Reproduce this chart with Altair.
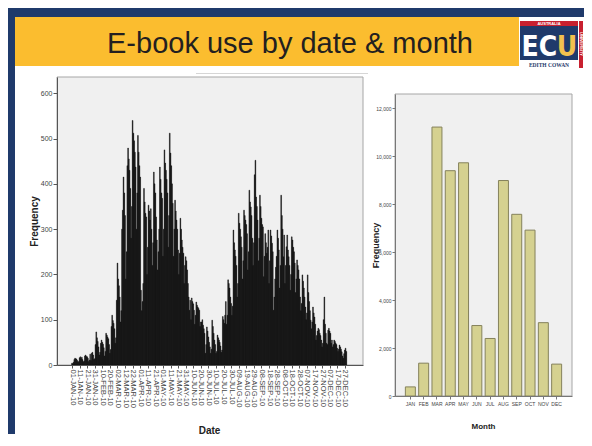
import json
import altair as alt
import pandas as pd

# ---------------- data ----------------
# daily e-book use, 01-JAN-10 (day 0) ... 29-DEC-10 (day 362)
daily_counts = [
    4, 3, 6,
    12, 15, 14, 13, 10, 6, 8,
    16, 18, 14, 17, 12, 7, 9,
    20, 22, 19, 18, 15, 8, 11,
    24, 10, 26, 28, 22, 12, 14,
    45, 73, 60, 52, 40, 22, 28,
    48, 55, 50, 46, 38, 20, 30,
    70, 66, 62, 58, 45, 26, 34,
    85, 110, 98, 92, 80, 48, 60,
    143, 225, 190, 175, 150, 95, 120,
    300, 342, 415, 380, 330, 190, 250,
    440, 479, 455, 430, 390, 280, 350,
    540, 512, 495, 470, 437, 300, 380,
    507, 470, 440, 415, 165, 120, 140,
    180, 390, 360, 335, 327, 200, 260,
    353, 340, 320, 345, 300, 220, 270,
    426, 400, 380, 327, 276, 210, 250,
    300, 437, 410, 380, 368, 240, 300,
    475, 446, 430, 410, 380, 260, 330,
    512, 468, 440, 400, 357, 240, 300,
    364, 340, 320, 300, 254, 200, 247,
    324, 300, 276, 260, 247, 180, 220,
    239, 230, 210, 180, 150, 121, 143,
    100, 148, 140, 135, 121, 90, 110,
    139, 132, 128, 125, 121, 85, 95,
    95, 100, 88, 80, 70, 26, 45,
    84, 75, 62, 50, 40, 26, 35,
    99, 85, 70, 55, 45, 26, 30,
    66, 60, 55, 50, 42, 28, 33,
    107, 100, 92, 110, 140, 90, 110,
    188, 180, 170, 150, 136, 110, 130,
    298, 270, 254, 240, 220, 150, 180,
    335, 313, 300, 283, 260, 190, 230,
    342, 330, 320, 310, 290, 210, 250,
    386, 360, 349, 330, 280, 220, 270,
    420, 452, 371, 350, 320, 230, 280,
    375, 350, 324, 310, 305, 195, 240,
    290, 270, 247, 260, 298, 180, 230,
    298, 285, 269, 250, 121, 150, 190,
    216, 240, 298, 280, 254, 170, 220,
    375, 330, 300, 239, 287, 180, 220,
    261, 287, 254, 239, 220, 165, 200,
    283, 276, 260, 250, 225, 160, 190,
    232, 220, 210, 190, 150, 120, 136,
    199, 185, 170, 150, 128, 100, 115,
    199, 160, 140, 120, 99, 80, 95,
    128, 115, 106, 90, 55, 65, 75,
    81, 78, 70, 65, 55, 40, 48,
    100, 150, 90, 70, 48, 45, 77,
    81, 75, 70, 48, 55, 40, 45,
    55, 52, 48, 45, 37, 30, 35,
    44, 40, 35, 29, 20, 15, 25,
    33, 37, 30,
]
day_index = list(range(len(daily_counts)))

tick_days = list(range(0, 361, 10))
tick_labels = [
    "01-JAN-10", "11-JAN-10", "21-JAN-10", "31-JAN-10", "10-FEB-10", "20-FEB-10",
    "02-MAR-10", "12-MAR-10", "22-MAR-10", "01-APR-10", "11-APR-10", "21-APR-10",
    "01-MAY-10", "11-MAY-10", "21-MAY-10", "31-MAY-10", "10-JUN-10", "20-JUN-10",
    "30-JUN-10", "10-JUL-10", "20-JUL-10", "30-JUL-10", "09-AUG-10", "19-AUG-10",
    "29-AUG-10", "08-SEP-10", "18-SEP-10", "28-SEP-10", "08-OCT-10", "18-OCT-10",
    "28-OCT-10", "07-NOV-10", "17-NOV-10", "27-NOV-10", "07-DEC-10", "17-DEC-10",
    "27-DEC-10",
]
left_y_ticks = [0, 100, 200, 300, 400, 500, 600]

months = ["JAN", "FEB", "MAR", "APR", "MAY", "JUN", "JUL", "AUG", "SEP", "OCT", "NOV", "DEC"]
month_counts = [380, 1370, 11220, 9400, 9730, 2940, 2400, 8990, 7580, 6920, 3060, 1330]
right_y_ticks = [0, 2000, 4000, 6000, 8000, 10000, 12000]

title_text = "E-book use by date & month"

# ---------------- styling ----------------
NAVY = "#1f3a6b"
YELLOW = "#fbbd2f"
RED = "#c8202f"
PLOT_BG = "#f0f0f0"
FRAME = "#a6a6a6"
FONT = "Liberation Sans, Arial, sans-serif"
LOGO_FONT = "Liberation Sans Narrow, DejaVu Sans Condensed, Liberation Sans, sans-serif"

# one shared view; the left panel occupies x 0..306, the right panel x 338..515
W, H = 515, 319
WL, HL = 306, 288
RX0, RX1, RY0 = 338, 515, 17

one = pd.DataFrame({"k": [0]})


def rect(x, x2, y, y2, fill, **kw):
    return alt.Chart(one).mark_rect(fill=fill, **kw).encode(
        x=alt.value(x), x2=alt.value(x2), y=alt.value(y), y2=alt.value(y2)
    )


def text(t, x, y, **kw):
    return alt.Chart(one).mark_text(text=t, **kw).encode(x=alt.value(x), y=alt.value(y))


# ---------------- slide decoration ----------------
decor = [
    rect(-49, 527, -69, -60, NAVY),
    rect(-49, -42, -69, 357, NAVY),
    rect(-42, 527, -60, 357, "white"),
    rect(-42, 462, -60, -11, YELLOW),
    text(title_text, 233, -24, fontSize=29, font=FONT, color="#231f20",
         align="center", baseline="alphabetic"),
    rect(462, 527, -60, -9, "white"),
    rect(463, 521, -56, -51, RED),
    rect(463, 521, -51, -17, NAVY),
    rect(522, 526, -56, -9, RED),
    text("AUSTRALIA", 492, -53.5, fontSize=4, font=FONT, fontWeight="bold", color="white",
         align="center", baseline="middle"),
    text("UNIVERSITY", 524, -33, fontSize=4, font=FONT, fontWeight="bold", color="white",
         align="center", baseline="middle", angle=90),
    text("E", 473, -21, fontSize=28, font=LOGO_FONT, fontWeight="bold", color="white",
         align="center", baseline="alphabetic"),
    text("C", 491, -21, fontSize=28, font=LOGO_FONT, fontWeight="bold", color="white",
         align="center", baseline="alphabetic"),
    text("U", 510, -21, fontSize=28, font=LOGO_FONT, fontWeight="bold", color="#f2c14e",
         align="center", baseline="alphabetic"),
    text("EDITH COWAN", 492, -10.5, fontSize=5.5, font="Liberation Serif, serif",
         fontWeight="bold", color=NAVY, align="center", baseline="alphabetic"),
    rect(139, 311, -4, -3, "#d6d6d6"),
    rect(0, WL, 0, HL, PLOT_BG, stroke=FRAME, strokeWidth=1),
    rect(RX0, RX1, RY0, H, PLOT_BG, stroke=FRAME, strokeWidth=1),
]

# ---------------- left: by date ----------------
df_daily = pd.DataFrame({"day": day_index, "count": daily_counts})
label_expr = json.dumps(tick_labels) + "[round(datum.value / 10)]"

daily_bars = alt.Chart(df_daily).transform_calculate(
    lo="datum.day - 0.5", hi="datum.day + 0.5"
).mark_bar(fill="#000000", stroke="#141414", strokeWidth=0.45).encode(
    x=alt.X("lo:Q",
            scale=alt.Scale(domain=[-19.8, 384], nice=False, zero=False, range=[0, WL]),
            axis=alt.Axis(orient="bottom", offset=HL - H, values=tick_days,
                          labelExpr=label_expr, labelAngle=90, labelAlign="left",
                          labelBaseline="middle", labelFontSize=7.5, labelFont=FONT,
                          labelColor="#444444", labelPadding=1, labelOverlap=False,
                          labelFlush=False, tickSize=3, tickColor="#555555",
                          domainColor="#555555", grid=False, title="Date", titleFont=FONT,
                          titleFontSize=10, titleFontWeight="bold", titleColor="#222222",
                          titleX=152, titleY=68, titleAlign="center",
                          titleBaseline="alphabetic", zindex=1)),
    x2="hi:Q",
    y=alt.Y("count:Q", scale=alt.Scale(domain=[0, 636], nice=False, range=[HL, 0]),
            axis=alt.Axis(orient="left", values=left_y_ticks, format="d", labelFontSize=7,
                          labelFont=FONT, labelColor="#444444", labelPadding=1, tickSize=4,
                          tickColor="#555555", domainColor="#555555", grid=False,
                          title="Frequency", titleFont=FONT, titleFontSize=10,
                          titleFontWeight="bold", titleColor="#222222", titleX=-23,
                          titleY=144, titleAngle=270, titleAlign="center",
                          titleBaseline="middle", zindex=1)),
    y2=alt.datum(0),
)

# ---------------- right: by month ----------------
df_month = pd.DataFrame({"month": months, "count": month_counts})

month_bars = alt.Chart(df_month).mark_bar(fill="#d5d190", stroke="#85825c", strokeWidth=1).encode(
    x=alt.X("month:N", sort=months,
            scale=alt.Scale(paddingInner=0.25, paddingOuter=0.78, range=[RX0, RX1]),
            axis=alt.Axis(orient="bottom", labelAngle=0, labelFontSize=5, labelFont=FONT,
                          labelColor="#444444", labelPadding=2, tickSize=3,
                          tickColor="#777777", domainColor="#777777", grid=False,
                          title="Month", titleFont=FONT, titleFontSize=8,
                          titleFontWeight="bold", titleColor="#222222", titleX=426,
                          titleY=32, titleAlign="center", titleBaseline="alphabetic",
                          zindex=1)),
    y=alt.Y("count:Q", scale=alt.Scale(domain=[0, 12600], nice=False, range=[H, RY0]),
            axis=alt.Axis(orient="left", offset=-RX0, values=right_y_ticks, format=",d",
                          labelFontSize=5, labelFont=FONT, labelColor="#444444",
                          labelPadding=1, tickSize=3, tickColor="#777777",
                          domainColor="#777777", grid=False, title="Frequency",
                          titleFont=FONT, titleFontSize=9, titleFontWeight="bold",
                          titleColor="#222222", titleX=-20, titleY=168, titleAngle=270,
                          titleAlign="center", titleBaseline="middle", zindex=1)),
)

chart = alt.layer(*decor, daily_bars, month_bars).resolve_scale(
    x="independent", y="independent"
).properties(width=W, height=H, padding=0).configure_view(strokeWidth=0)

chart.save("out.html", embed_options={"renderer": "svg", "actions": False})
